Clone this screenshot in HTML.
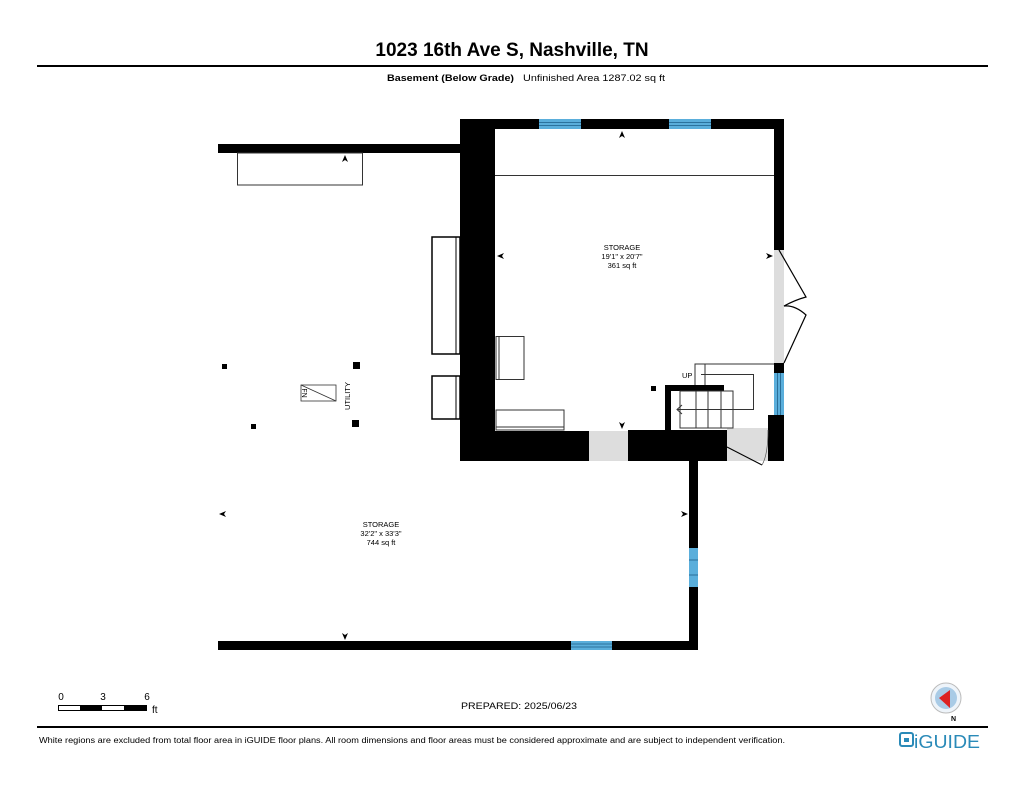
<!DOCTYPE html>
<html><head><style>
body{margin:0;background:#fff;width:1024px;height:791px;overflow:hidden;font-family:"Liberation Sans",Arial,sans-serif}
</style></head><body>
<svg width="1024" height="791" viewBox="0 0 1024 791" xmlns="http://www.w3.org/2000/svg" font-family="Liberation Sans, Arial, sans-serif">
<text x="512" y="56" font-size="19" font-weight="bold" text-anchor="middle">1023 16th Ave S, Nashville, TN</text>
<rect x="37" y="65" width="951" height="2" fill="#000"/>
<text x="387" y="81" font-size="9" font-weight="bold" textLength="127" lengthAdjust="spacingAndGlyphs">Basement (Below Grade)</text>
<text x="523" y="81" font-size="9" textLength="142" lengthAdjust="spacingAndGlyphs">Unfinished Area 1287.02 sq ft</text>

<!-- lower room walls -->
<rect x="218" y="144" width="244" height="9" fill="#000"/>
<rect x="218" y="641" width="479" height="9" fill="#000"/>
<rect x="689" y="461" width="9" height="189" fill="#000"/>
<rect x="689" y="548" width="9" height="39" fill="#5aaedb"/>
<line x1="689" y1="560" x2="698" y2="560" stroke="#1e5f8a" stroke-width="0.8"/>
<line x1="689" y1="575" x2="698" y2="575" stroke="#1e5f8a" stroke-width="0.8"/>
<rect x="571" y="641" width="41" height="9" fill="#5aaedb"/>
<line x1="571" y1="644" x2="612" y2="644" stroke="#1e5f8a" stroke-width="0.8"/>
<line x1="571" y1="647" x2="612" y2="647" stroke="#1e5f8a" stroke-width="0.8"/>
<rect x="237.5" y="153" width="125" height="32" fill="none" stroke="#333" stroke-width="1"/>
<rect x="432" y="237" width="28" height="117" fill="none" stroke="#000" stroke-width="1.5"/>
<line x1="456" y1="237" x2="456" y2="354" stroke="#000"/>
<rect x="432" y="376" width="28" height="43" fill="none" stroke="#000" stroke-width="1.5"/>
<line x1="456" y1="376" x2="456" y2="419" stroke="#000"/>
<rect x="222" y="364" width="5" height="5"/>
<rect x="353" y="362" width="7" height="7"/>
<rect x="352" y="420" width="7" height="7"/>
<rect x="251" y="424" width="5" height="5"/>
<rect x="301" y="385" width="35" height="16" fill="none" stroke="#333" stroke-width="0.8"/>
<line x1="301" y1="385" x2="336" y2="401" stroke="#333" stroke-width="0.8"/>
<text transform="translate(302,393) rotate(90)" font-size="7" text-anchor="middle">FN</text>
<text transform="translate(350,396) rotate(-90)" font-size="7.5" text-anchor="middle">UTILITY</text>
<text x="381" y="527" font-size="7.5" text-anchor="middle">STORAGE</text>
<text x="381" y="536" font-size="7.5" text-anchor="middle">32'2" x 33'3"</text>
<text x="381" y="545" font-size="7.5" text-anchor="middle">744 sq ft</text>
<path d="M345 155 l-3 7 l3 -2 l3 2z"/>
<path d="M345 640 l-3 -7 l3 2 l3 -2z"/>
<path d="M219 514 l7 -3 l-2 3 l2 3z"/>
<path d="M688 514 l-7 -3 l2 3 l-2 3z"/>

<!-- upper room -->
<rect x="460" y="119" width="35" height="342" fill="#000"/>
<rect x="460" y="119" width="324" height="10" fill="#000"/>
<rect x="539" y="119" width="42" height="10" fill="#5aaedb"/>
<rect x="669" y="119" width="42" height="10" fill="#5aaedb"/>
<line x1="539" y1="122.5" x2="581" y2="122.5" stroke="#1e5f8a" stroke-width="0.8"/><line x1="539" y1="125.5" x2="581" y2="125.5" stroke="#1e5f8a" stroke-width="0.8"/>
<line x1="669" y1="122.5" x2="711" y2="122.5" stroke="#1e5f8a" stroke-width="0.8"/><line x1="669" y1="125.5" x2="711" y2="125.5" stroke="#1e5f8a" stroke-width="0.8"/>
<rect x="774" y="119" width="10" height="131" fill="#000"/>
<rect x="774" y="250" width="10" height="113" fill="#ddd"/>
<rect x="774" y="363" width="10" height="10" fill="#000"/>
<rect x="774" y="373" width="10" height="42" fill="#5aaedb"/>
<line x1="777.5" y1="373" x2="777.5" y2="415" stroke="#1e5f8a" stroke-width="0.8"/><line x1="780.5" y1="373" x2="780.5" y2="415" stroke="#1e5f8a" stroke-width="0.8"/>
<rect x="768" y="415" width="16" height="46" fill="#000"/>
<rect x="460" y="431" width="129" height="30" fill="#000"/>
<rect x="589" y="431" width="39" height="30" fill="#ddd"/>
<rect x="628" y="430" width="99" height="31" fill="#000"/>
<rect x="727" y="428" width="41" height="33" fill="#ddd"/>
<path d="M727 447 L762 465" stroke="#000" stroke-width="1" fill="none"/>
<path d="M762 465 Q768 455 768 430" stroke="#555" stroke-width="0.7" fill="none"/>
<path d="M779 250 L806 297 Q795 300 784 306 Q795 305 806 315 L784 363" stroke="#000" stroke-width="1.2" fill="none"/>
<line x1="495" y1="175.5" x2="774" y2="175.5" stroke="#333" stroke-width="1"/>
<rect x="496" y="336.5" width="28" height="43" fill="none" stroke="#333" stroke-width="1"/>
<line x1="499" y1="337" x2="499" y2="380" stroke="#333"/>
<rect x="496" y="410" width="68" height="20" fill="none" stroke="#333" stroke-width="1"/>
<line x1="496" y1="427" x2="564" y2="427" stroke="#333"/>
<rect x="651" y="386" width="5" height="5"/>
<!-- stairs -->
<path d="M695 391 V364 H774" stroke="#333" fill="none"/>
<line x1="705" y1="364" x2="705" y2="391" stroke="#333"/>
<rect x="665" y="385" width="59" height="6" fill="#000"/>
<rect x="665" y="385" width="6" height="46" fill="#000"/>
<rect x="680" y="391" width="53" height="37" fill="none" stroke="#333"/>
<line x1="696" y1="391" x2="696" y2="428" stroke="#333"/>
<line x1="708" y1="391" x2="708" y2="428" stroke="#333"/>
<line x1="721" y1="391" x2="721" y2="428" stroke="#333"/>
<path d="M701 374.5 H753.5 V409.5 H677" stroke="#333" fill="none"/>
<path d="M682 405 L677 409.5 L682 414" stroke="#333" fill="none"/>
<text x="682" y="378" font-size="7.5">UP</text>
<text x="622" y="250" font-size="7.5" text-anchor="middle">STORAGE</text>
<text x="622" y="259" font-size="7.5" text-anchor="middle">19'1" x 20'7"</text>
<text x="622" y="268" font-size="7.5" text-anchor="middle">361 sq ft</text>
<path d="M622 131 l-3 7 l3 -2 l3 2z"/>
<path d="M622 429 l-3 -7 l3 2 l3 -2z"/>
<path d="M497 256 l7 -3 l-2 3 l2 3z"/>
<path d="M773 256 l-7 -3 l2 3 l-2 3z"/>

<!-- footer -->
<text x="61" y="700" font-size="10" text-anchor="middle">0</text>
<text x="103" y="700" font-size="10" text-anchor="middle">3</text>
<text x="147" y="700" font-size="10" text-anchor="middle">6</text>
<rect x="58.5" y="705.5" width="88" height="5" fill="#fff" stroke="#000"/>
<rect x="80" y="705" width="22" height="6" fill="#000"/>
<rect x="124" y="705" width="22" height="6" fill="#000"/>
<text x="152" y="713" font-size="10">ft</text>
<text x="461" y="709" font-size="9" textLength="116" lengthAdjust="spacingAndGlyphs">PREPARED: 2025/06/23</text>
<circle cx="946" cy="698" r="15" fill="#eef4fa" stroke="#bbb"/>
<circle cx="946" cy="698" r="11" fill="#a9cbe6"/>
<path d="M939 698 L950 690 L950 708z" fill="#d22"/>
<text x="951" y="721" font-size="7" font-weight="bold">N</text>
<rect x="37" y="726" width="951" height="2" fill="#000"/>
<text x="39" y="743" font-size="8" textLength="746" lengthAdjust="spacingAndGlyphs">White regions are excluded from total floor area in iGUIDE floor plans. All room dimensions and floor areas must be considered approximate and are subject to independent verification.</text>
<rect x="900" y="733" width="13" height="13" rx="2" fill="none" stroke="#2a8ab8" stroke-width="2"/>
<rect x="904" y="738" width="5" height="4" fill="#2a8ab8"/>
<text x="914" y="748" font-size="18" fill="#2a8ab8" textLength="66" lengthAdjust="spacingAndGlyphs">iGUIDE</text>
</svg>
</body></html>
